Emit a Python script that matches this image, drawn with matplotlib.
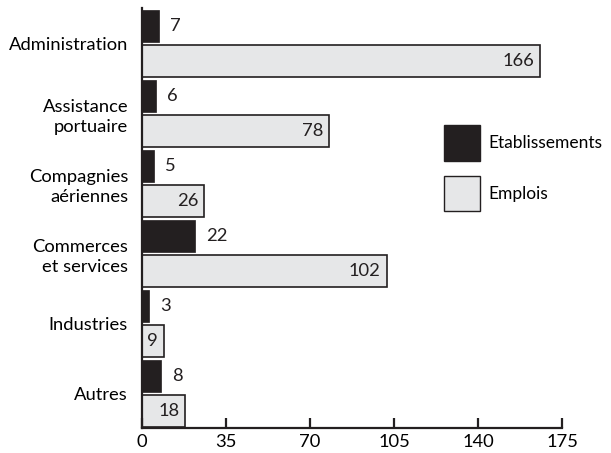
import matplotlib.pyplot as plt
from matplotlib.patches import Patch

plt.rcParams['font.family'] = ['Lato', 'DejaVu Sans']

# Données
secteurs = ["Administration", "Assistance\nportuaire", "Compagnies\naériennes",
            "Commerces\net services", "Industries", "Autres"]
etablissements = [7, 6, 5, 22, 3, 8]
emplois = [166, 78, 26, 102, 9, 18]

noir = "#231f20"
gris = "#e6e7e8"

fig = plt.figure(figsize=(6.11, 4.53), dpi=100)
ax = fig.add_axes([142 / 611, 25 / 453, 420 / 611, 420 / 453])

n = len(secteurs)
pos = [n - 1 - i for i in range(n)]  # Administration en haut
h = 0.457

ax.barh([p + 0.743 for p in pos], etablissements, height=h, color=noir, edgecolor=noir, linewidth=0.5)
ax.barh([p + 0.243 for p in pos], emplois, height=h, color=gris, edgecolor=noir, linewidth=1.2)

fs = 13.2
for p, v in zip(pos, etablissements):
    ax.annotate(str(v), (v, p + 0.743), xytext=(11, 0), textcoords="offset pixels",
                ha="left", va="center", fontsize=fs, color=noir)
for p, v in zip(pos, emplois):
    ax.annotate(str(v), (v, p + 0.243), xytext=(-6, 0), textcoords="offset pixels",
                ha="right", va="center", fontsize=fs, color=noir)

ax.set_xlim(0, 175)
ax.set_ylim(0, n)
ax.set_xticks([0, 35, 70, 105, 140, 175])
ax.set_yticks([p + 0.5 for p in pos])
ax.set_yticklabels(secteurs, fontsize=fs, ha="right", linespacing=1.35)
ax.tick_params(axis="y", length=0, pad=10)
ax.tick_params(axis="x", direction="in", length=7, width=1.6, pad=4, labelsize=fs, color=noir)

for s in ["top", "right"]:
    ax.spines[s].set_visible(False)
for s in ["left", "bottom"]:
    ax.spines[s].set_linewidth(1.6)
    ax.spines[s].set_color(noir)

handles = [Patch(facecolor=noir, edgecolor=noir, label="Etablissements"),
           Patch(facecolor=gris, edgecolor=noir, label="Emplois")]
fig.legend(handles=handles, loc="upper left", bbox_to_anchor=(428 / 611, 1 - 109 / 453),
           frameon=False, fontsize=12.5, handlelength=2.07, handleheight=2.81,
           handletextpad=0.5, labelspacing=0.86)

fig.savefig("out.png", dpi=100)
